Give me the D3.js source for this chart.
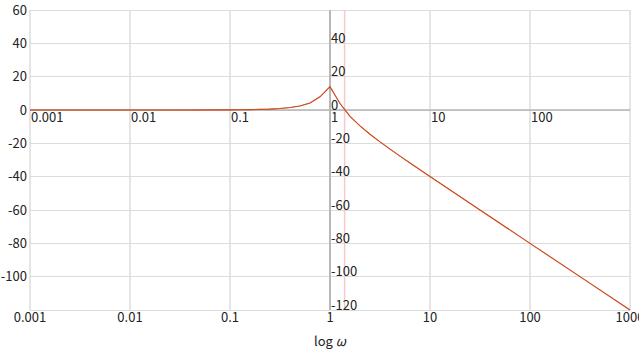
<!DOCTYPE html>
<html><head><meta charset="utf-8">
<script src="https://cdn.jsdelivr.net/npm/d3@7"></script>
<style>
body{margin:0;background:#fff;}
svg{display:block;font-family:"Noto Sans CJK JP","Noto Sans",sans-serif;}
</style></head>
<body><svg id="c" width="639" height="360"></svg>
<script>
// log10(omega) samples and magnitude in dB
const logOmega = [-3, -2, -1.5, -1, -0.9, -0.8, -0.7, -0.6, -0.5, -0.4, -0.3, -0.2, -0.1, 0, 0.1, 0.2, 0.3, 0.4, 0.5, 0.6, 0.7, 0.8, 0.9, 1, 1.5, 2, 2.5, 3];
const magDb = [0, 0, 0.01, 0.09, 0.14, 0.22, 0.35, 0.55, 0.89, 1.46, 2.42, 4.22, 7.92, 13.98, 3.92, -3.78, -9.56, -14.54, -19.1, -23.45, -27.66, -31.78, -35.86, -39.9, -60, -80, -100, -120];
const crossover = 1.4;               // gain crossover frequency (pink marker)
const xTicks = [0.001, 0.01, 0.1, 1, 10, 100, 1000];
const xTickLabels = ["0.001", "0.01", "0.1", "1", "10", "100", "1000"];
const yTicks = [60, 40, 20, 0, -20, -40, -60, -80, -100, -120];
const leftYLabels = [60, 40, 20, 0, -20, -40, -60, -80, -100];
const innerYLabels = [40, 20, 0, -20, -40, -60, -80, -100, -120];
const innerXLabels = [0.001, 0.01, 0.1, 1, 10, 100];

const svg = d3.select("#c");
const x = d3.scaleLog().domain([0.001, 1000]).range([30, 630]);
const y = d3.scaleLinear().domain([-120, 60]).range([310, 10]);
const fs = "13px";

// grid
svg.append("g").selectAll("line").data(yTicks).join("line")
  .attr("x1", 30).attr("x2", 630).attr("y1", d => y(d)).attr("y2", d => y(d))
  .attr("stroke", "#dcdcdc").attr("stroke-width", 1).attr("shape-rendering", "crispEdges");
svg.append("g").selectAll("line").data(xTicks).join("line")
  .attr("x1", d => x(d)).attr("x2", d => x(d)).attr("y1", 10).attr("y2", 310)
  .attr("stroke", "#dcdcdc").attr("stroke-width", 1.5);

// crossover marker
svg.append("line").attr("x1", x(crossover)).attr("x2", x(crossover)).attr("y1", 10).attr("y2", 310)
  .attr("stroke", "#f7caca").attr("stroke-width", 1.5);

// inner axes
svg.append("line").attr("x1", 30).attr("x2", 630).attr("y1", y(0)).attr("y2", y(0))
  .attr("stroke", "#b4b4b4").attr("stroke-width", 1.5);
svg.append("line").attr("x1", x(1)).attr("x2", x(1)).attr("y1", 10).attr("y2", 310)
  .attr("stroke", "#b8b8b8").attr("stroke-width", 2);

// left labels
svg.append("g").selectAll("text").data(leftYLabels).join("text")
  .attr("x", 27).attr("y", d => y(d)).attr("dy", "0.35em").attr("text-anchor", "end")
  .attr("font-size", fs).attr("fill", "#222").text(d => d);
// bottom labels
svg.append("g").selectAll("text").data(xTicks).join("text")
  .attr("x", d => x(d)).attr("y", 322).attr("text-anchor", "middle")
  .attr("font-size", fs).attr("fill", "#222").text((d, i) => xTickLabels[i]);
// inner y labels
svg.append("g").selectAll("text").data(innerYLabels).join("text")
  .attr("x", x(1) + 1).attr("y", d => y(d) - 0.5)
  .attr("font-size", fs).attr("fill", "#222").text(d => d);
// inner x labels
svg.append("g").selectAll("text").data(innerXLabels).join("text")
  .attr("x", d => x(d) + 1).attr("y", y(0) + 12)
  .attr("font-size", fs).attr("fill", "#222").text(d => xTickLabels[xTicks.indexOf(d)]);

// axis title
const t = svg.append("text").attr("x", 330).attr("y", 346).attr("text-anchor", "middle")
  .attr("font-size", fs).attr("fill", "#222");
t.append("tspan").text("log ");
t.append("tspan").attr("font-style", "italic").text("ω");

// curves
const pts = logOmega.map((l, i) => [Math.pow(10, l), magDb[i]]);
const line = d3.line().x(d => x(d[0])).y(d => y(d[1]));
svg.append("path").datum(pts).attr("d", line).attr("fill", "none")
  .attr("stroke", "#e02a10").attr("stroke-width", 1.1);
svg.append("path").datum(pts).attr("d", line).attr("fill", "none")
  .attr("stroke", "#b0762e").attr("stroke-width", 1).attr("stroke-opacity", 0.55);
</script></body></html>
